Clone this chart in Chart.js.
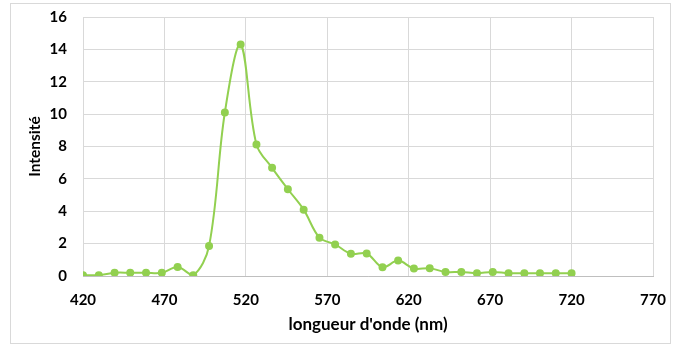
<!DOCTYPE html>
<html>
<head>
<meta charset="utf-8">
<script src="https://cdn.jsdelivr.net/npm/chart.js@4.4.1/dist/chart.umd.min.js"></script>
<style>
html,body{margin:0;padding:0;background:#fff;}
#wrap{position:relative;width:680px;height:351px;}
#frame{position:absolute;left:10px;top:3px;width:661px;height:341px;border:1px solid #d9d9d9;box-sizing:border-box;pointer-events:none;}
canvas{position:absolute;left:0;top:0;}
</style>
</head>
<body>
<div id="wrap">
<canvas id="c" width="680" height="351"></canvas>
<div id="frame"></div>
</div>
<script>
const wavelengths = [420, 429.7, 439.4, 449, 458.7, 468.4, 478.1, 487.7, 497.4, 507.1, 516.8, 526.5, 536.1, 545.8, 555.5, 565.2, 574.8, 584.5, 594.2, 603.9, 613.5, 623.2, 632.9, 642.6, 652.3, 661.9, 671.6, 681.3, 691, 700.6, 710.3, 720];
const intensity = [0.05, 0.05, 0.2, 0.2, 0.2, 0.2, 0.56, 0.05, 1.85, 10.1, 14.3, 8.13, 6.68, 5.36, 4.1, 2.37, 1.95, 1.37, 1.39, 0.54, 0.95, 0.46, 0.48, 0.25, 0.25, 0.17, 0.25, 0.17, 0.17, 0.17, 0.17, 0.17];
const xTicks = [420, 470, 520, 570, 620, 670, 720, 770];
const yTicks = [0, 2, 4, 6, 8, 10, 12, 14, 16];
const xTitle = "longueur d'onde (nm)";
const yTitle = "Intensité";

const pts = wavelengths.map((x, i) => ({x: x, y: intensity[i]}));
const FONT = "Lato, 'Open Sans', sans-serif";
const green = '#92d050';

new Chart(document.getElementById('c'), {
  type: 'scatter',
  data: {
    datasets: [{
      data: pts,
      showLine: true,
      borderColor: green,
      backgroundColor: green,
      borderWidth: 2,
      pointRadius: 3,
      pointHoverRadius: 3,
      tension: 0.35,
      cubicInterpolationMode: 'default'
    }]
  },
  options: {
    responsive: false,
    animation: false,
    devicePixelRatio: 1,
    layout: {padding: {left: 22, right: 27, top: 17, bottom: 12}},
    plugins: {legend: {display: false}, tooltip: {enabled: false}, title: {display: false}},
    scales: {
      x: {
        type: 'linear',
        min: 420, max: 770,
        afterBuildTicks: s => { s.ticks = xTicks.map(v => ({value: v})); },
        afterFit: s => { s.height = 63; s.paddingLeft = 0; s.paddingRight = 0; },
        grid: {color: '#d9d9d9', lineWidth: 1, drawTicks: false},
        border: {display: true, color: '#bfbfbf'},
        ticks: {color: '#000', font: {family: FONT, size: 15, weight: 'bold'}, padding: 15, maxRotation: 0},
        title: {display: true, text: xTitle, color: '#000', font: {family: FONT, size: 17, weight: 'bold'}, padding: {top: 4, bottom: 4}}
      },
      y: {
        min: 0, max: 16,
        afterBuildTicks: s => { s.ticks = yTicks.map(v => ({value: v})); },
        afterFit: s => { s.width = 61; s.paddingTop = 0; s.paddingBottom = 0; },
        grid: {color: '#d9d9d9', lineWidth: 1, drawTicks: false},
        border: {display: false},
        ticks: {color: '#000', font: {family: FONT, size: 15, weight: 'bold'}, padding: 16},
        title: {display: true, text: yTitle, color: '#000', font: {family: FONT, size: 15.5, weight: 'bold'}, padding: {top: 4, bottom: 4}}
      }
    }
  }
});
</script>
</body>
</html>
